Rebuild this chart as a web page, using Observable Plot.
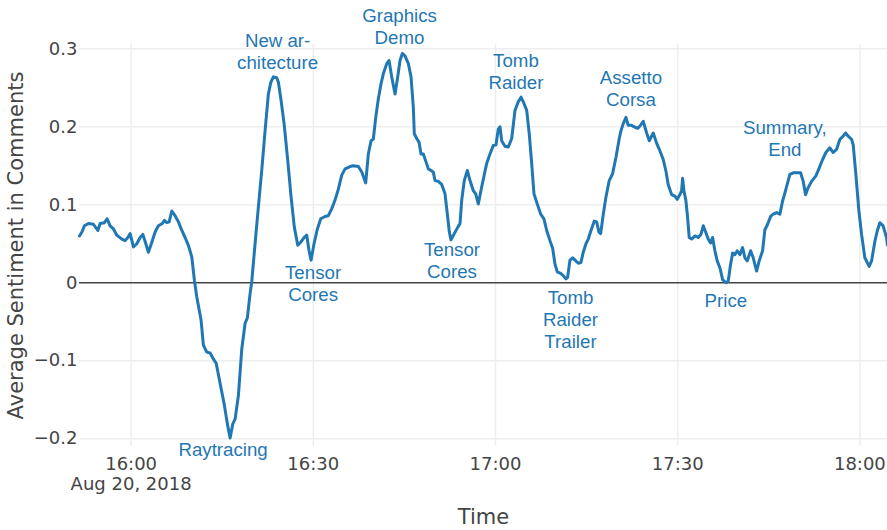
<!DOCTYPE html>
<html>
<head>
<meta charset="utf-8">
<script src="https://cdn.jsdelivr.net/npm/d3@7"></script>
<script src="https://cdn.jsdelivr.net/npm/@observablehq/plot@0.6"></script>
<style>
  html, body { margin: 0; padding: 0; background: #fff; }
  #chart svg { display: block; }
</style>
</head>
<body>
<div id="chart"></div>
<script>
// Minutes relative to 16:00 on Aug 20, 2018 (negative = before 16:00)
const minutes = [
  -8.5, -8.1, -7.69, -7.03, -6.21, -5.48, -5.10, -4.40, -3.95, -3.46, -2.91, -2.35, -1.53, -0.99, -0.54, -0.16,
  0.38, 0.94, 1.48, 1.93, 2.42, 2.85, 3.41, 3.95, 4.49, 5.15, 5.48, 5.88, 6.26, 6.70, 7.24, 7.79, 8.35, 8.89,
  9.43, 9.99, 10.42, 10.81, 11.52, 11.90, 12.46, 13.00, 13.71, 14.0, 14.65, 15.31, 15.85, 16.30, 16.74, 17.12,
  17.66, 18.22, 18.77, 19.14, 19.59, 19.87, 20.41, 20.95, 21.51, 22.06, 22.60, 23.00, 23.42, 23.98, 24.25, 24.69,
  25.19, 25.79, 26.34, 26.88, 27.44, 27.93, 28.48, 28.92, 29.30, 29.63, 30.12, 30.67, 31.23, 31.93, 32.48, 33.04,
  33.58, 34.12, 34.68, 35.23, 36.05, 36.59, 37.42, 37.98, 38.63, 39.06, 39.51, 39.88, 40.28, 40.71, 41.15, 41.53,
  42.09, 42.47, 42.91, 43.46, 43.90, 44.28, 44.66, 45.10, 45.65, 46.09, 46.47, 46.63, 47.03, 47.41, 47.74, 48.12,
  48.56, 48.94, 49.38, 49.76, 50.04, 50.58, 51.14, 51.69, 52.07, 52.40, 52.67, 53.22, 53.78, 54.16, 54.44, 54.86,
  55.36, 55.80, 56.35, 56.74, 57.17, 57.73, 58.55, 59.09, 59.64, 60.08, 60.46, 60.74, 61.02, 61.56, 62.11, 62.67,
  63.21, 63.75, 64.20, 64.58, 65.14, 65.56, 65.96, 66.34, 66.88, 67.44, 67.98, 68.43, 68.97, 69.42, 69.79, 70.17,
  70.73, 71.16, 71.60, 71.88, 72.26, 72.71, 73.09, 73.63, 74.07, 74.45, 74.90, 75.28, 75.72, 76.26, 76.66, 77.04,
  77.32, 77.75, 78.19, 78.73, 79.29, 79.84, 80.38, 80.66, 81.04, 81.48, 81.86, 82.30, 82.85, 83.41, 83.79, 84.33,
  84.89, 85.32, 85.98, 86.53, 87.08, 87.62, 88.07, 88.44, 89.00, 89.55, 89.93, 90.37, 90.65, 90.81, 91.03, 91.36,
  91.64, 91.90, 92.30, 92.84, 93.38, 93.83, 94.21, 94.65, 95.03, 95.42, 95.75, 96.13, 96.51, 96.96, 97.40, 97.94,
  98.32, 98.72, 99.05, 99.42, 99.80, 100.25, 100.69, 101.07, 101.45, 102.01, 102.44, 103.00, 103.42, 103.98, 104.36, 104.81,
  105.30, 105.73, 106.29, 106.83, 107.28, 107.65, 108.03, 108.48, 109.02, 109.58, 110.24, 110.67, 111.06, 111.49, 112.05, 112.76,
  113.30, 113.86, 114.40, 115.06, 115.61, 116.17, 116.71, 117.25, 117.65, 118.07, 118.63, 118.90, 119.34, 119.84, 120.28, 120.82,
  121.53, 121.93, 122.47, 122.85, 123.29, 123.83, 124.39, 124.55
];
const sentiment = [
  0.060, 0.065, 0.073, 0.076, 0.075, 0.067, 0.076, 0.077, 0.082, 0.073, 0.069, 0.061, 0.056, 0.054, 0.058, 0.063,
  0.046, 0.050, 0.058, 0.062, 0.050, 0.039, 0.052, 0.065, 0.073, 0.076, 0.080, 0.077, 0.078, 0.092, 0.086, 0.078, 0.067, 0.058,
  0.048, 0.033, 0.003, -0.018, -0.048, -0.080, -0.089, -0.090, -0.100, -0.103, -0.129, -0.155, -0.181, -0.199, -0.181, -0.175,
  -0.145, -0.085, -0.052, -0.045, -0.014, 0.002, 0.050, 0.097, 0.144, 0.195, 0.242, 0.257, 0.264, 0.263, 0.257, 0.234,
  0.204, 0.157, 0.110, 0.071, 0.048, 0.052, 0.058, 0.061, 0.041, 0.029, 0.050, 0.069, 0.082, 0.085, 0.086, 0.095,
  0.106, 0.120, 0.138, 0.146, 0.149, 0.150, 0.149, 0.142, 0.128, 0.165, 0.182, 0.184, 0.212, 0.236, 0.255, 0.268,
  0.281, 0.285, 0.264, 0.242, 0.264, 0.285, 0.294, 0.291, 0.281, 0.264, 0.225, 0.191, 0.185, 0.180, 0.165, 0.165,
  0.155, 0.146, 0.144, 0.142, 0.131, 0.130, 0.126, 0.114, 0.088, 0.065, 0.055, 0.063, 0.071, 0.076, 0.106, 0.131,
  0.144, 0.131, 0.118, 0.114, 0.101, 0.123, 0.153, 0.165, 0.176, 0.177, 0.197, 0.200, 0.182, 0.175, 0.174, 0.185,
  0.221, 0.232, 0.238, 0.232, 0.221, 0.191, 0.153, 0.114, 0.101, 0.088, 0.082, 0.067, 0.054, 0.044, 0.024, 0.014,
  0.012, 0.009, 0.005, 0.007, 0.029, 0.032, 0.029, 0.025, 0.026, 0.039, 0.050, 0.056, 0.067, 0.079, 0.078, 0.065,
  0.063, 0.088, 0.110, 0.131, 0.140, 0.161, 0.185, 0.195, 0.204, 0.212, 0.202, 0.202, 0.200, 0.198, 0.201, 0.207,
  0.192, 0.182, 0.192, 0.179, 0.169, 0.158, 0.143, 0.126, 0.113, 0.111, 0.107, 0.113, 0.118, 0.134, 0.118, 0.105,
  0.083, 0.058, 0.056, 0.060, 0.058, 0.062, 0.073, 0.064, 0.056, 0.051, 0.058, 0.041, 0.028, 0.019, 0.004, 0.000,
  0.002, 0.024, 0.038, 0.036, 0.041, 0.036, 0.045, 0.032, 0.028, 0.041, 0.032, 0.015, 0.028, 0.041, 0.068, 0.075,
  0.085, 0.088, 0.090, 0.088, 0.105, 0.115, 0.126, 0.139, 0.141, 0.141, 0.141, 0.130, 0.113, 0.122, 0.130, 0.137,
  0.147, 0.158, 0.167, 0.173, 0.167, 0.171, 0.184, 0.188, 0.192, 0.188, 0.184, 0.177, 0.139, 0.092, 0.062, 0.032,
  0.021, 0.028, 0.053, 0.066, 0.077, 0.073, 0.058, 0.048
];

// Annotations (data coordinates: minutes after 16:00, sentiment)
const annLabels = [
  "Raytracing", "New ar-\nchitecture", "Tensor\nCores", "Graphics\nDemo", "Tensor\nCores",
  "Tomb\nRaider", "Tomb\nRaider\nTrailer", "Assetto\nCorsa", "Price", "Summary,\nEnd"
];
const annMinutes = [15.14, 24.12, 29.96, 44.2, 52.84, 63.37, 72.35, 82.3, 97.94, 107.65];
const annValues = [-0.2137, 0.297, 0.0, 0.3293, 0.0286, 0.2713, -0.0461, 0.2501, -0.0223, 0.1859];

const yTicks = [-0.2, -0.1, 0, 0.1, 0.2, 0.3];
const xTickMinutes = [0, 30, 60, 90, 120];
const dateLabel = "Aug 20, 2018";
const xTitle = "Time";
const yTitle = "Average Sentiment in Comments";

const base = Date.UTC(2018, 7, 20, 16, 0, 0);
const toDate = m => new Date(base + m * 60000);

const data = minutes.map((m, i) => ({time: toDate(m), value: sentiment[i]}));
const annotations = annLabels.map((t, i) => ({text: t, time: toDate(annMinutes[i]), value: annValues[i]}));
const xTicks = xTickMinutes.map(toDate);
const hm = d3.utcFormat("%H:%M");

const chart = Plot.plot({
  width: 887,
  height: 530,
  marginLeft: 79,
  marginRight: 0,
  marginTop: 44,
  marginBottom: 84,
  style: {fontFamily: "'DejaVu Sans', Verdana, sans-serif", fontSize: "18px", color: "#444", background: "#fff"},
  x: {type: "utc", domain: d3.extent(data, d => d.time)},
  y: {domain: [-0.21, 0.3055]},
  marks: [
    Plot.gridX(xTicks, {stroke: "#eee", strokeOpacity: 1, strokeWidth: 1.5}),
    Plot.gridY(yTicks.filter(d => d !== 0), {stroke: "#eee", strokeOpacity: 1, strokeWidth: 1.5}),
    Plot.ruleY([0], {stroke: "#444", strokeWidth: 1.5}),
    Plot.axisY({ticks: yTicks, tickSize: 0, tickPadding: 2, label: null,
      tickFormat: d => d === 0 ? "0" : d3.format(".1f")(d), fill: "#444"}),
    Plot.axisX({ticks: xTicks, tickSize: 0, tickPadding: 9, label: null, lineHeight: 1.111,
      tickFormat: (d, i) => i === 0 ? hm(d) + "\n" + dateLabel : hm(d), fill: "#444"}),
    Plot.line(data, {x: "time", y: "value", stroke: "#1f77b4", strokeWidth: 3, strokeLinejoin: "round"}),
    Plot.text(annotations, {x: "time", y: "value", text: "text", fill: "#1f77b4",
      fontFamily: "'Liberation Sans', Arial, sans-serif", fontSize: 18.7, lineHeight: 1.1765,
      textAnchor: "middle", lineAnchor: "middle"}),
    Plot.text([xTitle], {frameAnchor: "bottom", lineAnchor: "middle", textAnchor: "middle", dy: 70.3, fontSize: 21, fill: "#444"}),
    Plot.text([yTitle], {frameAnchor: "left", lineAnchor: "middle", textAnchor: "middle", rotate: -90, dx: -63, fontSize: 21, fill: "#444"})
  ]
});
document.getElementById("chart").appendChild(chart);
</script>
</body>
</html>
